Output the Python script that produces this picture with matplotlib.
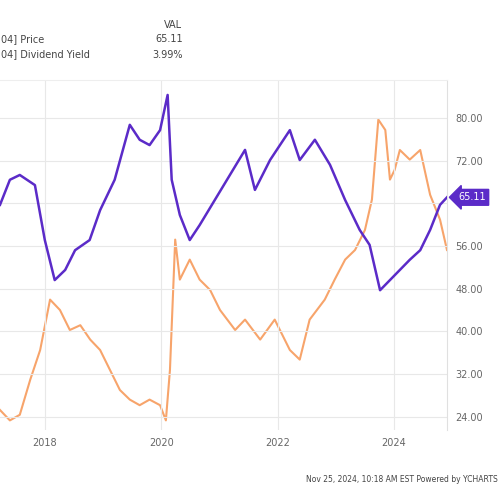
import matplotlib
matplotlib.use("Agg")
import matplotlib.pyplot as plt

price_t = [2017.23,2017.40,2017.57,2017.83,2018.00,2018.17,2018.35,2018.52,2018.77,2018.95,2019.20,2019.46,2019.63,2019.80,2019.98,2020.11,2020.18,2020.32,2020.49,2020.66,2020.92,2021.18,2021.44,2021.61,2021.87,2022.21,2022.38,2022.64,2022.90,2023.16,2023.41,2023.58,2023.76,2023.93,2024.10,2024.27,2024.45,2024.62,2024.79,2024.91]
price = [63.7,68.4,69.3,67.4,57.1,49.6,51.5,55.2,57.1,62.7,68.4,78.7,75.9,74.9,77.7,84.3,68.4,61.8,57.1,59.9,64.6,69.3,74.0,66.5,72.1,77.7,72.1,75.9,71.2,64.6,59.0,56.2,47.7,49.6,51.5,53.4,55.2,59.0,63.7,65.11]

yield_t = [2017.23,2017.40,2017.57,2017.75,2017.92,2018.09,2018.26,2018.43,2018.61,2018.78,2018.95,2019.12,2019.29,2019.46,2019.63,2019.80,2019.98,2020.08,2020.15,2020.24,2020.32,2020.49,2020.66,2020.84,2021.01,2021.27,2021.44,2021.70,2021.95,2022.21,2022.38,2022.55,2022.81,2022.98,2023.16,2023.33,2023.50,2023.62,2023.73,2023.85,2023.93,2024.01,2024.10,2024.27,2024.45,2024.62,2024.79,2024.91]
yld = [1.99,1.86,1.93,2.37,2.74,3.37,3.24,2.99,3.05,2.87,2.74,2.49,2.24,2.12,2.05,2.12,2.05,1.86,2.49,4.12,3.62,3.87,3.62,3.49,3.24,2.99,3.12,2.87,3.12,2.74,2.62,3.12,3.37,3.62,3.87,3.99,4.24,4.62,5.62,5.49,4.87,4.99,5.24,5.12,5.24,4.68,4.37,3.99]

yticks = [24,32,40,48,56,64,72,80]
ytick_labels = ["24.00","32.00","40.00","48.00","56.00","","72.00","80.00"]
xticks = [2018,2020,2022,2024]

purple = "#5b2bc8"
orange = "#f7a46b"

fig = plt.figure(figsize=(5,5), dpi=100)
ax = fig.add_axes([0.0,0.14,0.894,0.70])
ax.set_xlim(2017.23,2024.91)
ax.set_ylim(21.5,87.1)
ax2 = ax.twinx()
ax2.set_ylim(1.74,6.115)
ax2.axis("off")
ax2.plot(yield_t, yld, color=orange, lw=1.5)
ax.plot(price_t, price, color=purple, lw=1.8, zorder=3)
ax.set_zorder(ax2.get_zorder()+1); ax.patch.set_visible(False)
ax.set_xticks(xticks)
ax.set_xticklabels([str(x) for x in xticks], fontsize=7, color="#666666")
ax.set_yticks(yticks)
ax.yaxis.tick_right()
ax.set_yticklabels(ytick_labels, fontsize=7, color="#666666")
ax.tick_params(length=0, pad=6)
ax.grid(True, color="#e8e8e8", lw=0.8)
for s in ["left","bottom"]:
    ax.spines[s].set_visible(False)
ax.spines["right"].set_color("#e0e0e0")
ax.spines["top"].set_color("#eeeeee")
ax.annotate("65.11", xy=(1.0, price[-1]), xycoords=("axes fraction","data"),
            xytext=(8,0), textcoords="offset points", fontsize=7, color="white",
            va="center", bbox=dict(boxstyle="larrow,pad=0.3", fc=purple, ec=purple))
fig.text(0.002, 0.915, "04] Price", fontsize=7, color="#444444", ha="left")
fig.text(0.002, 0.885, "04] Dividend Yield", fontsize=7, color="#444444", ha="left")
fig.text(0.365, 0.945, "VAL", fontsize=7, color="#444444", ha="right")
fig.text(0.365, 0.915, "65.11", fontsize=7, color="#444444", ha="right")
fig.text(0.365, 0.885, "3.99%", fontsize=7, color="#444444", ha="right")
fig.text(0.995, 0.035, "Nov 25, 2024, 10:18 AM EST Powered by YCHARTS", fontsize=5.5, color="#444444", ha="right")
fig.savefig("out.png", dpi=100)
